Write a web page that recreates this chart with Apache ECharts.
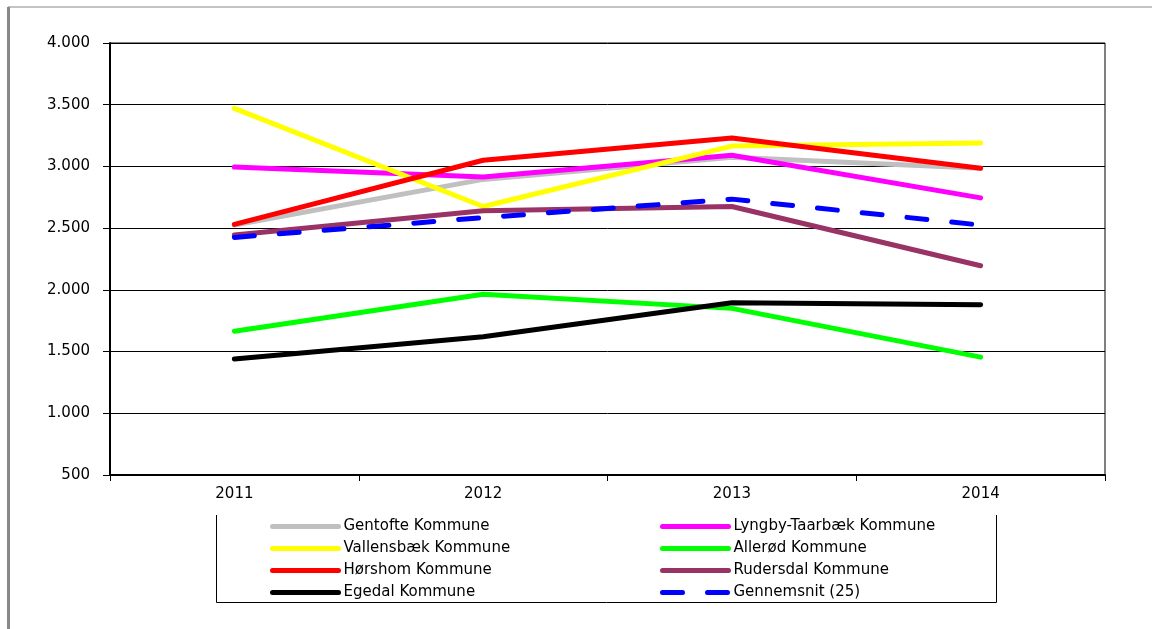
<!DOCTYPE html>
<html>
<head>
<meta charset="utf-8">
<script src="https://cdn.jsdelivr.net/npm/echarts@6/dist/echarts.min.js"></script>
<style>
  html, body { margin: 0; padding: 0; background: #fff; }
  #chart { width: 1152px; height: 629px; }
</style>
</head>
<body>
<div id="chart"></div>
<script>
// data
const years = ['2011', '2012', '2013', '2014'];
const gentofte = [2525, 2895, 3075, 2985];
const lyngby = [2995, 2915, 3090, 2745];
const vallensbaek = [3470, 2675, 3165, 3190];
const alleroed = [1665, 1965, 1850, 1455];
const hoersholm = [2530, 3050, 3230, 2985];
const rudersdal = [2445, 2640, 2675, 2195];
const egedal = [1440, 1620, 1895, 1880];
const gennemsnit = [2425, 2585, 2735, 2525];

const yTicks = { min: 500, max: 4000, interval: 500 };

const font = 'DejaVu Sans, sans-serif';
const textColor = '#000';

function line(name, data, color, extra) {
    return Object.assign({
        name: name,
        type: 'line',
        data: data,
        symbol: 'none',
        showSymbol: false,
        silent: true,
        lineStyle: { width: 5, color: color, cap: 'round', join: 'round' },
        itemStyle: { color: color }
    }, extra || {});
}

const series = [
    line('Gentofte Kommune', gentofte, '#C0C0C0'),
    line('Lyngby-Taarbæk Kommune', lyngby, '#FF00FF'),
    line('Vallensbæk Kommune', vallensbaek, '#FFFF00'),
    line('Allerød Kommune', alleroed, '#00FF00'),
    line('Hørshom Kommune', hoersholm, '#FF0000'),
    line('Rudersdal Kommune', rudersdal, '#993366'),
    line('Egedal Kommune', egedal, '#000000'),
    line('Gennemsnit (25)', gennemsnit, '#0000FF', {
        lineStyle: { width: 5, color: '#0000FF', type: [20, 25], cap: 'round' }
    })
];

const legendBase = {
    orient: 'vertical',
    top: 519,
    padding: 0,
    itemWidth: 66,
    itemHeight: 14,
    itemGap: 7,
    selectedMode: false,
    itemStyle: { opacity: 0 },
    lineStyle: { width: 5, cap: 'round' },
    textStyle: { color: textColor, fontFamily: font, fontSize: 15 }
};

const option = {
    backgroundColor: '#fff',
    animation: false,
    grid: {
        left: 110,
        right: 47,
        top: 43,
        bottom: 154,
        show: true,
        borderColor: '#000',
        borderWidth: 1
    },
    legend: [
        Object.assign({}, legendBase, {
            left: 270,
            data: ['Gentofte Kommune', 'Vallensbæk Kommune', 'Hørshom Kommune', 'Egedal Kommune']
        }),
        Object.assign({}, legendBase, {
            left: 660,
            data: ['Lyngby-Taarbæk Kommune', 'Allerød Kommune', 'Rudersdal Kommune', 'Gennemsnit (25)']
        })
    ],
    xAxis: {
        type: 'category',
        data: years,
        boundaryGap: true,
        axisLine: { lineStyle: { color: '#000', width: 2 } },
        axisTick: { show: true, length: 6, lineStyle: { color: '#000', width: 1 } },
        axisLabel: { color: textColor, fontFamily: font, fontSize: 15, margin: 12 },
        splitLine: { show: false }
    },
    yAxis: {
        type: 'value',
        min: yTicks.min,
        max: yTicks.max,
        interval: yTicks.interval,
        axisLine: { show: true, lineStyle: { color: '#000', width: 2 } },
        axisTick: { show: true, length: 7, lineStyle: { color: '#000', width: 1 } },
        axisLabel: {
            color: textColor,
            fontFamily: font,
            fontSize: 15,
            margin: 20,
            formatter: (v) => v.toString().replace(/\B(?=(\d{3})+(?!\d))/g, '.')
        },
        splitLine: { show: true, lineStyle: { color: '#000', width: 1 } }
    },
    graphic: [
        // outer chart frame (grey, only top and left visible)
        { type: 'line', shape: { x1: 8, y1: 7, x2: 1152, y2: 7 }, style: { stroke: '#888', lineWidth: 1 } },
        { type: 'line', shape: { x1: 8.5, y1: 7, x2: 8.5, y2: 629 }, style: { stroke: '#888', lineWidth: 3 } },
        // legend frame, open at the top
        {
            type: 'polyline',
            shape: { points: [[216.5, 515], [216.5, 602.5], [996.5, 602.5], [996.5, 515]] },
            style: { stroke: '#000', lineWidth: 1, fill: null }
        }
    ],
    series: series
};

const chart = echarts.init(document.getElementById('chart'), null, { renderer: 'canvas' });
chart.setOption(option);
</script>
</body>
</html>
